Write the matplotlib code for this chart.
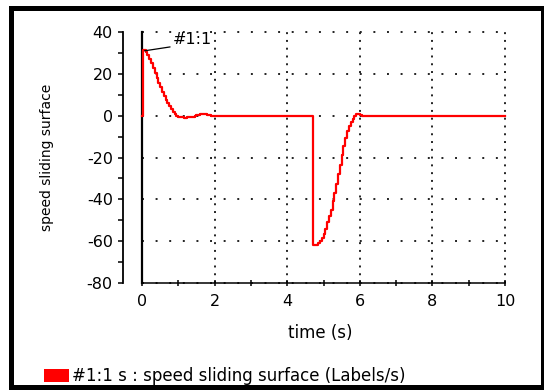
import matplotlib
matplotlib.use("Agg")
import matplotlib.pyplot as plt
from matplotlib.patches import Rectangle, Patch
from matplotlib.ticker import MultipleLocator

plt.rcParams['font.family'] = ['DejaVu Sans']
plt.rcParams['axes.unicode_minus'] = False

# ---- data ----
time_s = [0.00, 0.04, 0.10, 0.15, 0.20, 0.25, 0.30, 0.35, 0.40, 0.45,
          0.50, 0.55, 0.60, 0.65, 0.70, 0.75, 0.80, 0.85, 0.90, 0.95,
          1.00, 1.05, 1.15, 1.25, 1.35, 1.45, 1.50, 1.60, 1.70, 1.80,
          1.90, 4.72, 4.80, 4.85, 4.90, 4.95, 5.00, 5.05, 5.10, 5.15,
          5.20, 5.25, 5.30, 5.35, 5.40, 5.45, 5.50, 5.55, 5.60, 5.65,
          5.70, 5.75, 5.80, 5.85, 5.90, 5.95, 6.00, 6.05, 10.0]
surface = [0.0, 31.5, 30.5, 29.0, 27.0, 25.0, 23.0, 20.5, 18.0, 15.5,
           13.5, 11.5, 9.5, 7.5, 6.0, 4.5, 3.0, 1.8, 0.8, 0.0,
           -0.5, -0.8, -0.9, -0.8, -0.6, -0.2, 0.3, 0.6, 0.6, 0.3,
           0.0, -62.0, -62.0, -61.0, -60.0, -58.5, -56.5, -54.0, -51.0, -48.0,
           -45.0, -41.0, -37.0, -32.5, -28.0, -23.5, -19.0, -14.5, -10.5, -7.5,
           -5.0, -3.0, -1.5, -0.3, 0.6, 0.9, 0.4, 0.0, 0.0]
x_ticks = [0, 2, 4, 6, 8, 10]
y_ticks = [-80, -60, -40, -20, 0, 20, 40]
series_name = "#1:1 s : speed sliding surface (Labels/s)"
annot_text = "#1:1"
x_label = "time (s)"
y_label = "speed sliding surface"

W, H = 544, 390
fig = plt.figure(figsize=(W / 100, H / 100), dpi=100)
ax = fig.add_axes([142 / W, 1 - 283 / H, (505 - 142) / W, (283 - 32) / H])

ax.plot(time_s, surface, drawstyle='steps-post', color='#ff0000', lw=1.6,
        zorder=5, clip_on=False)
ax.axvline(0, color='black', lw=1.6, zorder=4, clip_on=False)

ax.set_xlim(0, 10)
ax.set_ylim(-80, 40)
ax.set_xticks(x_ticks)
ax.set_yticks(y_ticks)
ax.xaxis.set_minor_locator(MultipleLocator(1))
ax.yaxis.set_minor_locator(MultipleLocator(10))

for s in ['top', 'right']:
    ax.spines[s].set_visible(False)
ax.spines['left'].set_position(('outward', 19 * 0.72))
ax.spines['left'].set_linewidth(1.3)
ax.spines['bottom'].set_linewidth(1.1)

ax.tick_params(axis='y', which='both', direction='out', length=3.8, width=1.1,
               labelsize=11.5, pad=3.5)
ax.tick_params(axis='x', which='both', direction='inout', length=4.5, width=1.1,
               labelsize=11.5, pad=6.0)

ax.xaxis.grid(True, which='major', color='#222222', linestyle=(0, (1, 3)), lw=1.4)
ax.yaxis.grid(True, which='major', color='#222222', linestyle=(0, (1, 6)), lw=1.4)
for gl in ax.get_xgridlines() + ax.get_ygridlines():
    gl.set_clip_on(False)

ax.set_xlabel(x_label, fontsize=12)
ax.xaxis.set_label_coords(0.49, -0.165)
ax.set_ylabel(y_label, fontsize=10, va='center')
ax.yaxis.set_label_coords(-0.262, 0.5)

ax.annotate(annot_text, xy=(0.07, 31.0), xytext=(0.85, 34.5),
            fontsize=11.5, ha='left', va='baseline',
            arrowprops=dict(arrowstyle='-', color='black', lw=0.9,
                            shrinkA=0, shrinkB=0, relpos=(0, 0)),
            zorder=6)

fs_leg = 12
fig.legend(handles=[Patch(facecolor='#ff0000', edgecolor='none')],
           labels=[series_name], loc='center left',
           bbox_to_anchor=(44 / W, 1 - 376 / H), frameon=False,
           fontsize=fs_leg, borderpad=0, borderaxespad=0,
           handlelength=25 / (fs_leg * 100 / 72),
           handleheight=14 / (fs_leg * 100 / 72),
           handletextpad=3 / (fs_leg * 100 / 72))

fig.add_artist(Rectangle((10.5 / W, 3.5 / H), 532 / W, 379 / H,
                         transform=fig.transFigure, fill=False,
                         ec='black', lw=3.6))

fig.savefig("out.png", dpi=100)
